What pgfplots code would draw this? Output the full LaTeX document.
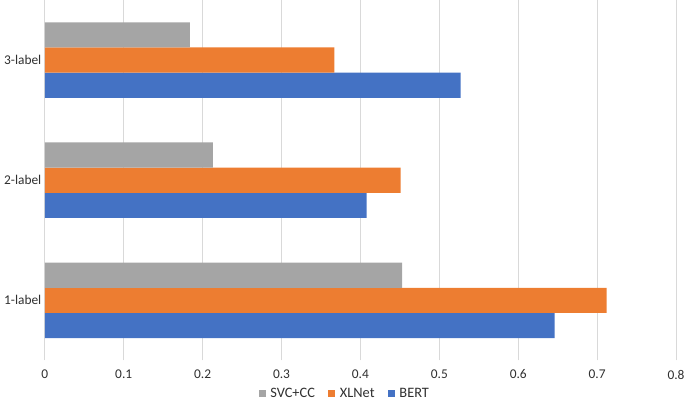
\documentclass[border=0pt]{standalone}
\usepackage{fontspec}
\setmainfont{Carlito}
\usepackage{pgfplots}
\pgfplotsset{compat=1.18}
\definecolor{bertblue}{HTML}{4472C4}
\definecolor{xlnetorange}{HTML}{ED7D31}
\definecolor{svcgray}{HTML}{A5A5A5}
\definecolor{gridgray}{HTML}{D9D9D9}
\definecolor{labelgray}{HTML}{303030}
\begin{document}
\begin{tikzpicture}
  \begin{axis}[
    xbar,
    scale only axis,
    width=634bp, height=362bp,
    xmin=0, xmax=0.8, ymin=0.5, ymax=3.5,
    xtick={0,0.1,0.2,0.3,0.4,0.5,0.6,0.7,0.8},
    ytick={1,2,3},
    yticklabels={1-label,2-label,3-label},
    xmajorgrids,
    grid style={draw=gridgray, line width=0.8bp},
    axis line style={draw=none},
    major tick length=0pt,
    tick label style={font=\fontsize{13.5}{15}\selectfont, text=labelgray},
    xticklabel style={yshift=-6bp},
    /pgf/number format/assume math mode=true,
    bar width=25.3bp,
    reverse legend,
    legend columns=-1,
    legend style={at={(0.475,0)}, anchor=center, yshift=-33bp, draw=none, fill=none,
      font=\fontsize{14.5}{16}\selectfont, text=labelgray,
      nodes={inner sep=1.5bp},
      /tikz/every odd column/.append style={column sep=3bp},
      /tikz/every even column/.append style={column sep=12bp}},
    legend image code/.code={\fill[#1] (0bp,-3.5bp) rectangle (7bp,3.5bp);},
  ]
    \addplot[fill=bertblue, draw=none, bar shift=-25.3bp]
      coordinates {(0.646,1) (0.408,2) (0.527,3)};
    \addplot[fill=xlnetorange, draw=none, bar shift=0bp]
      coordinates {(0.712,1) (0.451,2) (0.367,3)};
    \addplot[fill=svcgray, draw=none, bar shift=25.3bp]
      coordinates {(0.453,1) (0.213,2) (0.184,3)};
    \legend{BERT, XLNet, SVC+CC}
    \coordinate (bl) at (rel axis cs:0,0);
    \coordinate (tr) at (rel axis cs:1,1);
  \end{axis}
  \pgfresetboundingbox
  \path ([shift={(-45bp,-43bp)}]bl) rectangle ([shift={(9bp,0bp)}]tr);
\end{tikzpicture}
\end{document}
